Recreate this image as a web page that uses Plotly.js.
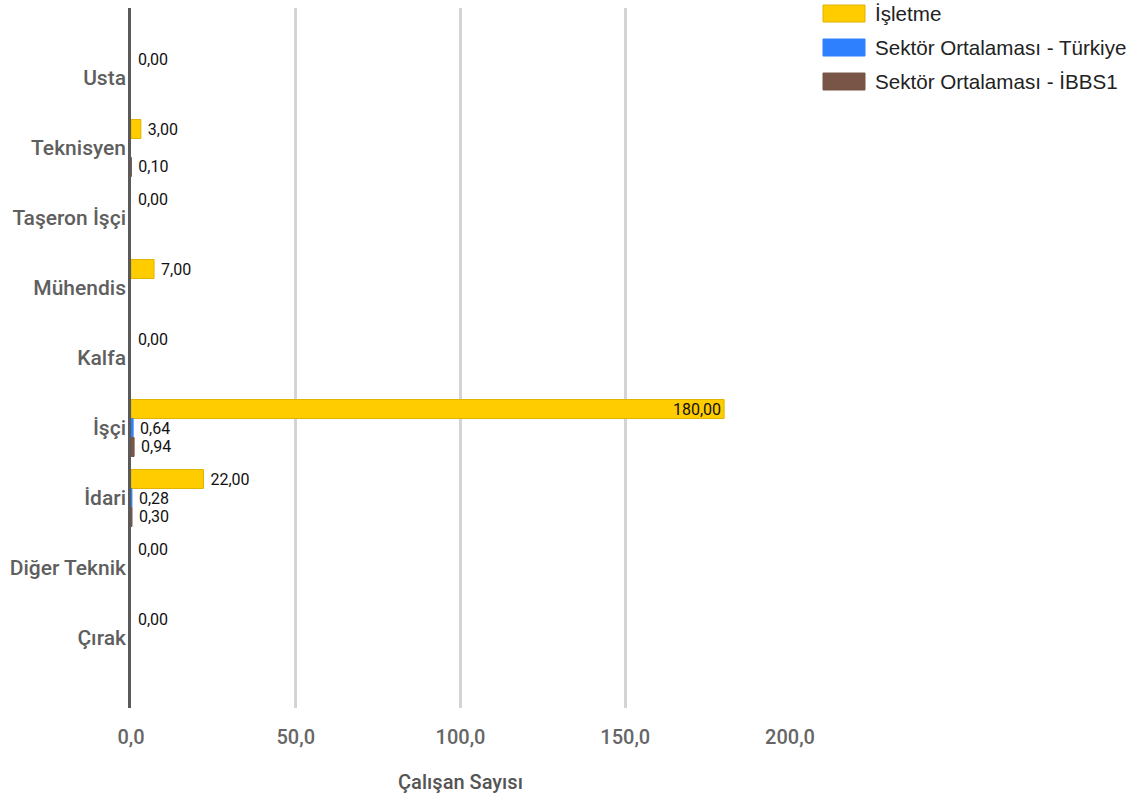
<!DOCTYPE html>
<html>
<head>
<meta charset="utf-8">
<script src="https://cdn.plot.ly/plotly-3.0.1.min.js"></script>
<style>
html,body{margin:0;padding:0;background:#fff;}
#chart{width:1138px;height:796px;}
</style>
</head>
<body>
<div id="chart"></div>
<script>
const categories = ["Usta", "Teknisyen", "Taşeron İşçi", "Mühendis", "Kalfa", "İşçi", "İdari", "Diğer Teknik", "Çırak"];
const seriesNames = ["İşletme", "Sektör Ortalaması - Türkiye", "Sektör Ortalaması - İBBS1"];
const isletme = [0, 3, 0, 7, 0, 180, 22, 0, 0];
const turkiye = [null, null, null, null, null, 0.64, 0.28, null, null];
const ibbs1 = [null, 0.10, null, null, null, 0.94, 0.30, null, null];
const xTicks = [0, 50, 100, 150, 200];
const xTitle = "Çalışan Sayısı";

const colors = ["#FFCC00", "#2F80FF", "#795548"];
const lineColors = ["#E0B400", "#2F80FF", "#795548"];
const seriesValues = [isletme, turkiye, ibbs1];

const maxVal = Math.max(...isletme);
const traces = seriesValues.map((vals, i) => ({
  type: "bar",
  orientation: "h",
  name: seriesNames[i],
  y: categories,
  x: vals,
  marker: {color: colors[i], line: {color: lineColors[i], width: vals.map(v => v ? 1 : 0)}},
  texttemplate: vals.map(v => (v !== null && v === maxVal) ? "%{x:.2f}" : "\u00a0%{x:.2f}"),
  textposition: vals.map(v => (v !== null && v === maxVal) ? "inside" : "outside"),
  insidetextanchor: "end",
  constraintext: "none",
  textfont: {family: "Roboto", size: 16, color: "#111"},
  insidetextfont: {family: "Roboto", size: 16, color: "#111"},
  outsidetextfont: {family: "Roboto", size: 16, color: "#111"},
  cliponaxis: false,
  hoverinfo: "x+y+name",
  showlegend: false
}));

// plot area pixel geometry helpers (for the custom legend only)
const L = 131, R = 790, T = 8, B = 708;
const px = x => (x - L) / (R - L);
const py = y => (B - y) / (B - T);

const shapes = [];
const annotations = [];
const legendTops = [5, 39, 73];
seriesNames.forEach((n, i) => {
  const top = legendTops[i];
  shapes.push({type: "rect", xref: "paper", yref: "paper",
    x0: px(823), x1: px(865), y0: py(top), y1: py(top + 17),
    fillcolor: colors[i], line: {color: i === 0 ? "#E0B400" : colors[i], width: 1}});
  annotations.push({xref: "paper", yref: "paper", x: px(873), y: py(top + 8.5),
    xanchor: "left", yanchor: "middle", showarrow: false, text: n,
    font: {family: "Liberation Sans, Arial", size: 20.6, color: "#222"}});
});

const medium = "Roboto Medium, Roboto";
const layout = {
  width: 1138, height: 796,
  margin: {l: L, r: 1138 - R, t: T, b: 796 - B},
  paper_bgcolor: "#fff", plot_bgcolor: "#fff",
  separators: ",.",
  barmode: "group",
  bargap: 0.186,
  bargroupgap: 0,
  showlegend: false,
  font: {family: "Roboto", color: "#666"},
  xaxis: {
    range: [0, 200],
    tickvals: xTicks,
    tickformat: ".1f",
    showgrid: true,
    gridcolor: "#d4d4d4",
    gridwidth: 3,
    zeroline: false,
    ticks: "",
    ticklabelstandoff: 15,
    tickfont: {family: medium, size: 20, color: "#666", weight: 500},
    title: {text: xTitle, standoff: 26, font: {family: medium, size: 20, color: "#555", weight: 500}},
    fixedrange: true
  },
  yaxis: {
    type: "category",
    categoryorder: "array",
    categoryarray: categories,
    range: [9, -1],
    showgrid: false,
    zeroline: false,
    showline: true,
    linecolor: "#5a5a5a",
    linewidth: 2.5,
    ticks: "",
    ticklabelstandoff: -2,
    tickfont: {family: medium, size: 21, color: "#5f5f5f", weight: 500},
    fixedrange: true
  },
  shapes: shapes,
  annotations: annotations
};

Plotly.newPlot("chart", traces, layout, {displayModeBar: false});
</script>
</body>
</html>
